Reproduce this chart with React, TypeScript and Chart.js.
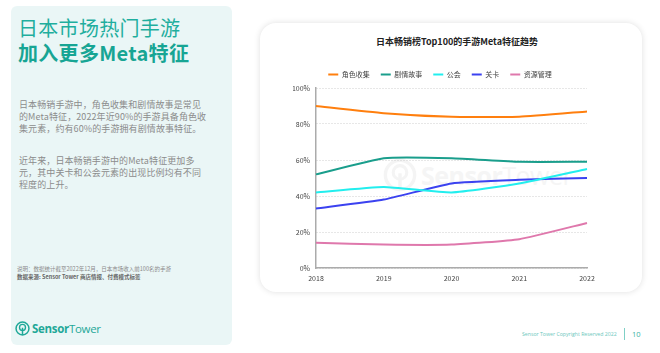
import React, { useEffect, useRef } from "react";
import { Chart, registerables } from "chart.js";
Chart.register(...registerables);

const years = ["2018", "2019", "2020", "2021", "2022"];
const seriesNames = ["角色收集", "剧情故事", "公会", "关卡", "资源管理"];
const roleCollect = [90, 86, 84, 84, 87];
const story = [52, 61, 61, 59, 59];
const guild = [42, 45, 42, 47, 55];
const levels = [33, 38, 47, 49, 50];
const resource = [14, 13, 13, 16, 25];
const seriesValues = [roleCollect, story, guild, levels, resource];
const seriesColors = ["#FF7F0E", "#1A9E8C", "#22EEEE", "#3B42F0", "#DF78AC"];
const yMin = 0;
const yMax = 100;
const yStep = 20;

const CJK = '"Noto Sans CJK SC", "Noto Sans", sans-serif';

function LineChart() {
  const ref = useRef<HTMLCanvasElement | null>(null);
  useEffect(() => {
    if (!ref.current) return;
    const chart = new Chart(ref.current, {
      type: "line",
      data: {
        labels: years,
        datasets: seriesNames.map((name, i) => ({
          label: name,
          data: seriesValues[i],
          borderColor: seriesColors[i],
          backgroundColor: seriesColors[i],
          borderWidth: 2,
          pointRadius: 0,
          tension: 0.15,
          fill: false,
        })),
      },
      options: {
        responsive: false,
        animation: false,
        layout: { padding: { left: 33, right: 20, top: 0, bottom: 0 } },
        plugins: {
          title: { display: false },
          tooltip: { enabled: false },
          legend: {
            display: true,
            position: "top",
            labels: {
              usePointStyle: true,
              pointStyle: "line",
              pointStyleWidth: 10,
              padding: 11,
              color: "#444",
              font: { family: CJK, size: 7 },
            },
          },
        },
        scales: {
          x: {
            type: "category",
            offset: false,
            grid: { display: false, drawTicks: false },
            border: { display: true, color: "#ababab", width: 1.5 },
            ticks: {
              padding: 6,
              color: "#444",
              font: { family: CJK, size: 7 },
              maxRotation: 0,
            },
            afterFit: (s: any) => {
              s.height = 20;
            },
          },
          y: {
            min: yMin,
            max: yMax,
            grid: { display: true, drawTicks: false, color: "#cfcfcf", lineWidth: 1 },
            border: { display: true, color: "#ababab", width: 1.5, dash: [1, 2] },
            ticks: {
              stepSize: yStep,
              padding: 6,
              color: "#444",
              font: { family: CJK, size: 7 },
              callback: (v: any) => v + "%",
            },
            afterFit: (s: any) => {
              s.width = 23;
            },
          },
        },
      },
    });
    return () => chart.destroy();
  }, []);
  return <canvas ref={ref} width={347} height={228} style={{ width: 347, height: 228, display: "block" }} />;
}

function LogoIcon({ size, color }: { size: number; color: string }) {
  return (
    <svg width={size} height={size} viewBox="0 0 20 20" style={{ display: "block" }}>
      <circle cx="10" cy="10" r="8.6" fill="none" stroke={color} strokeWidth="2" />
      <circle cx="10" cy="8.5" r="4" fill="none" stroke={color} strokeWidth="1.8" />
      <line x1="10" y1="9" x2="10" y2="18.6" stroke={color} strokeWidth="2" />
    </svg>
  );
}

export default function App() {
  return (
    <div
      style={{
        position: "fixed",
        left: 0,
        top: 0,
        width: 660,
        height: 353,
        background: "#ffffff",
        overflow: "hidden",
        fontFamily: CJK,
      }}
    >
      {/* left panel */}
      <div
        style={{
          position: "absolute",
          left: 11,
          top: 6,
          width: 221,
          height: 339,
          background: "#EAF6F6",
          borderRadius: 6,
        }}
      />
      <div
        style={{
          position: "absolute",
          left: 18,
          top: 15,
          fontSize: 20,
          lineHeight: "25px",
          color: "#1FAE9E",
          whiteSpace: "nowrap",
          letterSpacing: 0.3,
        }}
      >
        <div style={{ fontWeight: 400 }}>日本市场热门手游</div>
        <div style={{ fontWeight: 700, color: "#17A594" }}>加入更多Meta特征</div>
      </div>
      <div
        style={{
          position: "absolute",
          left: 19,
          top: 99,
          fontSize: 9,
          lineHeight: "12px",
          color: "#8c8c8c",
          whiteSpace: "nowrap",
          letterSpacing: 0.1,
        }}
      >
        <div>日本畅销手游中，角色收集和剧情故事是常见</div>
        <div>的Meta特征，2022年近90%的手游具备角色收</div>
        <div>集元素，约有60%的手游拥有剧情故事特征。</div>
        <div style={{ height: 20 }} />
        <div>近年来，日本畅销手游中的Meta特征更加多</div>
        <div>元，其中关卡和公会元素的出现比例均有不同</div>
        <div>程度的上升。</div>
      </div>
      <div
        style={{
          position: "absolute",
          left: 17,
          top: 265,
          fontSize: 5.5,
          lineHeight: "8px",
          color: "#8a8a8a",
          whiteSpace: "nowrap",
        }}
      >
        <div>说明：数据统计截至2022年12月，日本市场收入前100名的手游</div>
        <div style={{ fontWeight: 700, color: "#666" }}>数据来源: Sensor Tower 商店情报、付费模式标签</div>
      </div>
      <div
        style={{
          position: "absolute",
          left: 15,
          top: 321,
          display: "flex",
          alignItems: "center",
          gap: 2,
          color: "#1FA898",
          whiteSpace: "nowrap",
        }}
      >
        <LogoIcon size={15} color="#1FA898" />
        <span style={{ fontFamily: '"Open Sans", sans-serif', fontSize: 11.5, letterSpacing: -0.3 }}>
          <b style={{ fontWeight: 700 }}>Sensor</b>
          <span style={{ fontWeight: 400 }}>Tower</span>
        </span>
      </div>

      {/* right card */}
      <div
        style={{
          position: "absolute",
          left: 260,
          top: 23,
          width: 382,
          height: 269,
          background: "#ffffff",
          borderRadius: 16,
          boxShadow: "0 0 6px rgba(0,0,0,0.13)",
        }}
      />
      <div
        style={{
          position: "absolute",
          left: 260,
          width: 394,
          top: 35,
          textAlign: "center",
          fontSize: 9,
          fontWeight: 700,
          color: "#222",
          lineHeight: "14px",
          whiteSpace: "nowrap",
        }}
      >
        日本畅销榜Top100的手游Meta特征趋势
      </div>
      {/* watermark */}
      <div
        style={{
          position: "absolute",
          left: 383,
          top: 158,
          display: "flex",
          alignItems: "center",
          gap: 4,
          color: "#f5f5f5",
          whiteSpace: "nowrap",
        }}
      >
        <LogoIcon size={34} color="#f4f4f4" />
        <span style={{ fontFamily: '"Open Sans", sans-serif', fontSize: 25, letterSpacing: -0.5 }}>
          <b style={{ fontWeight: 700 }}>Sensor</b>
          <span style={{ fontWeight: 400 }}>Tower</span>
        </span>
      </div>
      <div style={{ position: "absolute", left: 260, top: 60 }}>
        <LineChart />
      </div>

      {/* footer */}
      <div
        style={{
          position: "absolute",
          left: 522,
          top: 330,
          fontSize: 5.2,
          lineHeight: "8px",
          color: "#6cc7bc",
          fontFamily: '"Open Sans", sans-serif',
          whiteSpace: "nowrap",
        }}
      >
        Sensor Tower Copyright Reserved 2022
      </div>
      <div style={{ position: "absolute", left: 624, top: 328, width: 1, height: 12, background: "#7fd0c6" }} />
      <div
        style={{
          position: "absolute",
          left: 632,
          top: 329,
          fontSize: 7.5,
          lineHeight: "10px",
          color: "#3bb3a5",
          fontFamily: '"Open Sans", sans-serif',
        }}
      >
        10
      </div>
    </div>
  );
}
